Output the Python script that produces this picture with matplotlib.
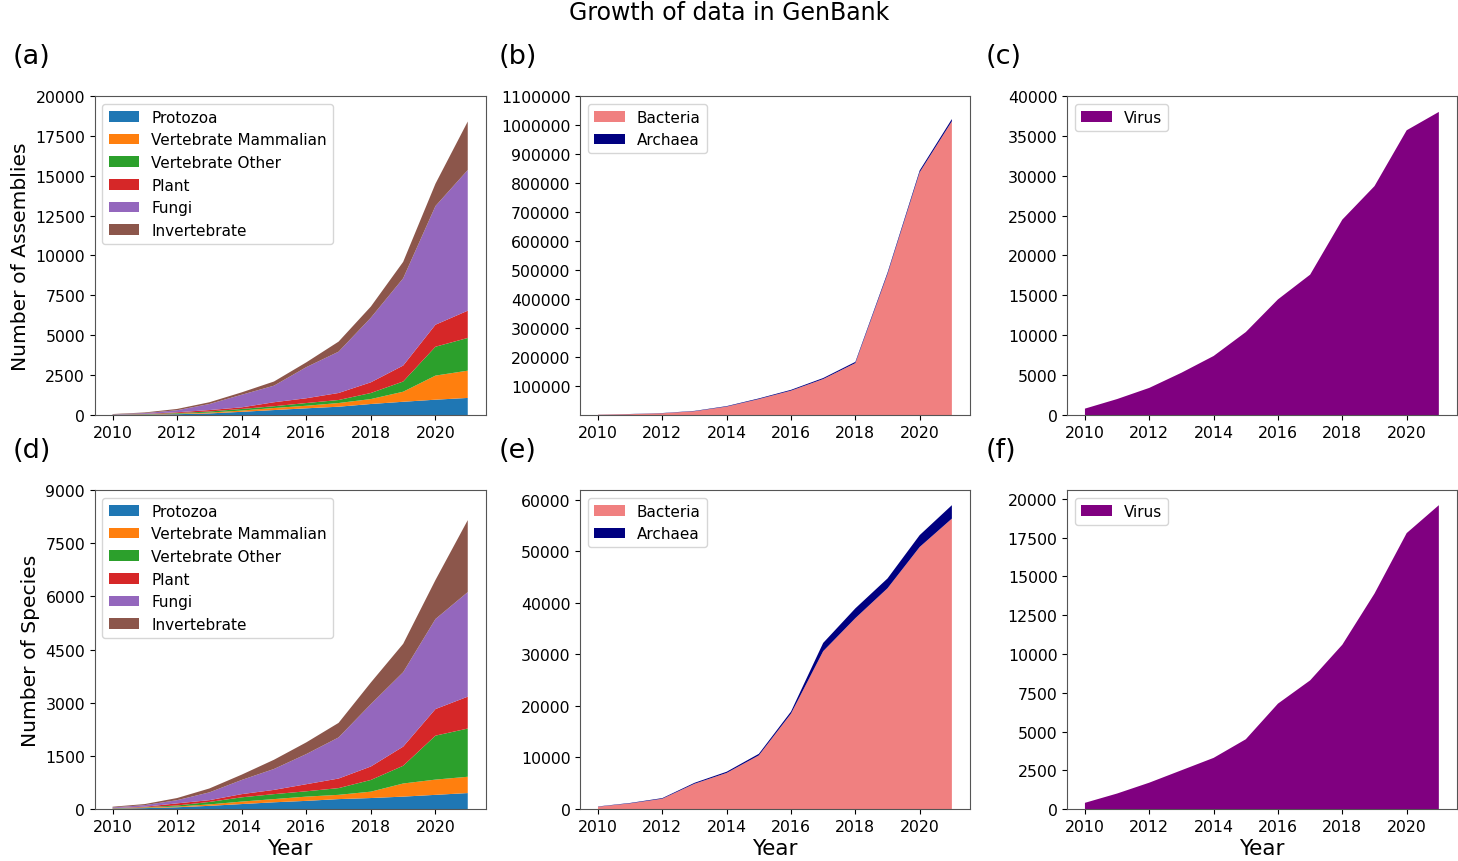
import matplotlib
matplotlib.use("Agg")
import matplotlib.pyplot as plt
from matplotlib.ticker import ScalarFormatter
import numpy as np

years = np.arange(2010, 2022)

# assemblies per group (panel a)
asm_protozoa = [10, 25, 50, 100, 200, 310, 420, 520, 690, 830, 960, 1070]
asm_vert_mammal = [5, 15, 30, 50, 80, 130, 160, 230, 310, 630, 1510, 1710]
asm_vert_other = [5, 15, 40, 70, 100, 110, 170, 190, 380, 640, 1810, 2050]
asm_plant = [5, 15, 50, 90, 100, 250, 300, 440, 670, 1000, 1380, 1710]
asm_fungi = [15, 50, 130, 380, 790, 1040, 1950, 2590, 4050, 5470, 7440, 8820]
asm_invert = [20, 40, 80, 110, 150, 260, 300, 630, 700, 1030, 1400, 3040]

# species per group (panel d)
sp_protozoa = [10, 25, 50, 90, 140, 190, 230, 280, 310, 350, 400, 450]
sp_vert_mammal = [5, 15, 20, 40, 70, 90, 120, 120, 180, 370, 430, 460]
sp_vert_other = [5, 10, 30, 70, 120, 140, 150, 190, 330, 500, 1240, 1360]
sp_plant = [5, 15, 60, 50, 90, 120, 200, 270, 380, 540, 750, 900]
sp_fungi = [20, 45, 90, 220, 400, 590, 850, 1160, 1760, 2100, 2540, 2950]
sp_invert = [20, 30, 60, 110, 150, 260, 330, 410, 610, 800, 1100, 2030]

# prokaryotes
asm_bacteria = [1000, 3000, 6000, 13000, 29000, 55000, 84000, 124000, 179000, 486000, 837000, 1013000]
asm_archaea = [300, 500, 800, 1200, 1700, 2200, 2800, 3500, 4200, 5200, 6300, 7500]
sp_bacteria = [450, 1100, 2000, 4900, 7000, 10400, 18500, 30600, 37000, 42800, 50800, 56300]
sp_archaea = [50, 80, 120, 180, 230, 300, 400, 1600, 1900, 1900, 2300, 2600]

# viruses
asm_virus = [800, 2000, 3400, 5300, 7400, 10400, 14500, 17600, 24500, 28700, 35700, 38000]
sp_virus = [400, 1000, 1700, 2500, 3300, 4500, 6800, 8300, 10600, 13900, 17800, 19600]

euk_labels = ["Protozoa", "Vertebrate Mammalian", "Vertebrate Other", "Plant", "Fungi", "Invertebrate"]
euk_colors = ["tab:blue", "tab:orange", "tab:green", "tab:red", "tab:purple", "tab:brown"]
pro_labels = ["Bacteria", "Archaea"]
pro_colors = ["lightcoral", "navy"]

TICK = 11.3
LEG = 11
plt.rcParams["font.family"] = "DejaVu Sans"
plt.rcParams["axes.edgecolor"] = "#555555"

fig = plt.figure(figsize=(14.58, 8.62), dpi=100)
lefts = [0.065, 0.398, 0.732]
widths = [0.268, 0.267, 0.267]
bottoms = [0.5174, 0.0603]
h = 0.3701

axs = [[fig.add_axes([lefts[c], bottoms[r], widths[c], h]) for c in range(3)] for r in range(2)]

# row 1: assemblies
ax = axs[0][0]
ax.stackplot(years, asm_protozoa, asm_vert_mammal, asm_vert_other, asm_plant,
             asm_fungi, asm_invert, labels=euk_labels, colors=euk_colors)
ax.set_ylim(0, 20000)
ax.set_ylabel("Number of Assemblies", fontsize=14.6)

ax = axs[0][1]
ax.stackplot(years, asm_bacteria, asm_archaea, labels=pro_labels, colors=pro_colors)
ax.set_ylim(0, 1100000)
ax.set_yticks(np.arange(100000, 1100001, 100000))
fmt = ScalarFormatter()
fmt.set_scientific(False)
ax.yaxis.set_major_formatter(fmt)

ax = axs[0][2]
ax.stackplot(years, asm_virus, labels=["Virus"], colors=["purple"])
ax.set_ylim(0, 40000)

# row 2: species
ax = axs[1][0]
ax.stackplot(years, sp_protozoa, sp_vert_mammal, sp_vert_other, sp_plant,
             sp_fungi, sp_invert, labels=euk_labels, colors=euk_colors)
ax.set_ylim(0, 9000)
ax.set_yticks(np.arange(0, 9001, 1500))
ax.set_ylabel("Number of Species", fontsize=14.6)

ax = axs[1][1]
ax.stackplot(years, sp_bacteria, sp_archaea, labels=pro_labels, colors=pro_colors)
ax.set_ylim(0, max(np.add(sp_bacteria, sp_archaea)) * 1.05)

ax = axs[1][2]
ax.stackplot(years, sp_virus, labels=["Virus"], colors=["purple"])
ax.set_ylim(0, max(sp_virus) * 1.05)

letters = "abcdef"
for r in range(2):
    for c in range(3):
        ax = axs[r][c]
        ax.tick_params(labelsize=TICK)
        ax.set_xticks([2010, 2012, 2014, 2016, 2018, 2020])
        ax.legend(loc="upper left", fontsize=LEG)
        ax.text(-0.21, 1.125, "(%s)" % letters[r * 3 + c], transform=ax.transAxes,
                fontsize=19.5, ha="left", va="center")
        if r == 1:
            ax.set_xlabel("Year", fontsize=15.5, labelpad=3)

fig.suptitle("Growth of data in GenBank", fontsize=17, y=0.999, va="top")
plt.savefig("out.png", dpi=100)
